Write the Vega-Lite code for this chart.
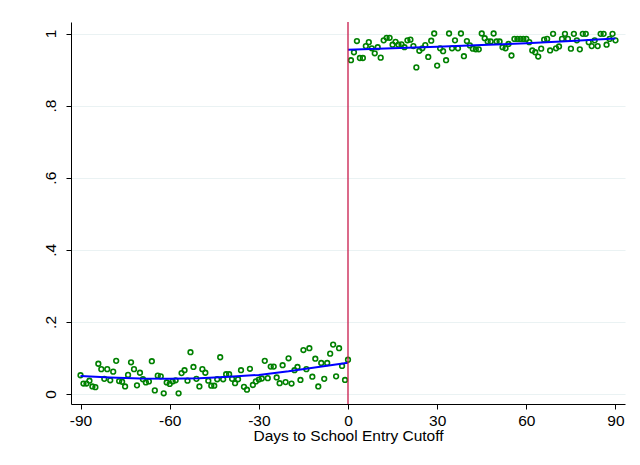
{
  "$schema": "https://vega.github.io/schema/vega-lite/v6.json",
  "autosize": "none",
  "width": 554,
  "height": 382,
  "padding": {"left": 71, "top": 22, "right": 15, "bottom": 61},
  "background": "white",
  "config": {
    "view": {"stroke": null},
    "font": "Liberation Sans",
    "axis": {
      "labelFont": "Liberation Sans",
      "titleFont": "Liberation Sans",
      "labelFontSize": 15.5,
      "titleFontSize": 15.5,
      "labelColor": "#000000",
      "titleColor": "#000000",
      "titleFontWeight": "normal",
      "domainColor": "#000000",
      "tickColor": "#000000",
      "domainWidth": 1,
      "tickWidth": 1,
      "tickSize": 5
    }
  },
  "datasets": {
    "pts": [
      {"x": -90, "y": 0.052, "side": "L"}, {"x": -89, "y": 0.029, "side": "L"}, {"x": -88, "y": 0.029, "side": "L"},
      {"x": -87, "y": 0.037, "side": "L"}, {"x": -86, "y": 0.021, "side": "L"}, {"x": -85, "y": 0.019, "side": "L"},
      {"x": -84, "y": 0.084, "side": "L"}, {"x": -83, "y": 0.069, "side": "L"}, {"x": -82, "y": 0.042, "side": "L"},
      {"x": -81, "y": 0.069, "side": "L"}, {"x": -80, "y": 0.038, "side": "L"}, {"x": -79, "y": 0.062, "side": "L"},
      {"x": -78, "y": 0.092, "side": "L"}, {"x": -77, "y": 0.036, "side": "L"}, {"x": -76, "y": 0.034, "side": "L"},
      {"x": -75, "y": 0.021, "side": "L"}, {"x": -74, "y": 0.053, "side": "L"}, {"x": -73, "y": 0.088, "side": "L"},
      {"x": -72, "y": 0.069, "side": "L"}, {"x": -71, "y": 0.024, "side": "L"}, {"x": -70, "y": 0.059, "side": "L"},
      {"x": -69, "y": 0.041, "side": "L"}, {"x": -68, "y": 0.032, "side": "L"}, {"x": -67, "y": 0.035, "side": "L"},
      {"x": -66, "y": 0.091, "side": "L"}, {"x": -65, "y": 0.010, "side": "L"}, {"x": -64, "y": 0.051, "side": "L"},
      {"x": -63, "y": 0.049, "side": "L"}, {"x": -62, "y": 0.002, "side": "L"}, {"x": -61, "y": 0.032, "side": "L"},
      {"x": -60, "y": 0.028, "side": "L"}, {"x": -59, "y": 0.035, "side": "L"}, {"x": -58, "y": 0.038, "side": "L"},
      {"x": -57, "y": 0.002, "side": "L"}, {"x": -56, "y": 0.058, "side": "L"}, {"x": -55, "y": 0.066, "side": "L"},
      {"x": -54, "y": 0.037, "side": "L"}, {"x": -53, "y": 0.116, "side": "L"}, {"x": -52, "y": 0.075, "side": "L"},
      {"x": -51, "y": 0.042, "side": "L"}, {"x": -50, "y": 0.021, "side": "L"}, {"x": -49, "y": 0.069, "side": "L"},
      {"x": -48, "y": 0.059, "side": "L"}, {"x": -47, "y": 0.037, "side": "L"}, {"x": -46, "y": 0.023, "side": "L"},
      {"x": -45, "y": 0.023, "side": "L"}, {"x": -44, "y": 0.041, "side": "L"}, {"x": -43, "y": 0.102, "side": "L"},
      {"x": -42, "y": 0.041, "side": "L"}, {"x": -41, "y": 0.055, "side": "L"}, {"x": -40, "y": 0.055, "side": "L"},
      {"x": -39, "y": 0.042, "side": "L"}, {"x": -38, "y": 0.030, "side": "L"}, {"x": -37, "y": 0.041, "side": "L"},
      {"x": -36, "y": 0.066, "side": "L"}, {"x": -35, "y": 0.020, "side": "L"}, {"x": -34, "y": 0.012, "side": "L"},
      {"x": -33, "y": 0.070, "side": "L"}, {"x": -32, "y": 0.025, "side": "L"}, {"x": -31, "y": 0.035, "side": "L"},
      {"x": -30, "y": 0.040, "side": "L"}, {"x": -29, "y": 0.043, "side": "L"}, {"x": -28, "y": 0.092, "side": "L"},
      {"x": -27, "y": 0.044, "side": "L"}, {"x": -26, "y": 0.076, "side": "L"}, {"x": -25, "y": 0.076, "side": "L"},
      {"x": -24, "y": 0.046, "side": "L"}, {"x": -23, "y": 0.030, "side": "L"}, {"x": -22, "y": 0.080, "side": "L"},
      {"x": -21, "y": 0.033, "side": "L"}, {"x": -20, "y": 0.099, "side": "L"}, {"x": -19, "y": 0.029, "side": "L"},
      {"x": -18, "y": 0.066, "side": "L"}, {"x": -17, "y": 0.075, "side": "L"}, {"x": -16, "y": 0.039, "side": "L"},
      {"x": -15, "y": 0.122, "side": "L"}, {"x": -14, "y": 0.069, "side": "L"}, {"x": -13, "y": 0.127, "side": "L"},
      {"x": -12, "y": 0.048, "side": "L"}, {"x": -11, "y": 0.098, "side": "L"}, {"x": -10, "y": 0.021, "side": "L"},
      {"x": -9, "y": 0.086, "side": "L"}, {"x": -8, "y": 0.042, "side": "L"}, {"x": -7, "y": 0.086, "side": "L"},
      {"x": -6, "y": 0.112, "side": "L"}, {"x": -5, "y": 0.137, "side": "L"}, {"x": -4, "y": 0.049, "side": "L"},
      {"x": -3, "y": 0.127, "side": "L"}, {"x": -2, "y": 0.078, "side": "L"}, {"x": -1, "y": 0.039, "side": "L"},
      {"x": 0, "y": 0.095, "side": "L"},
      {"x": 1, "y": 0.926, "side": "R"}, {"x": 2, "y": 0.948, "side": "R"}, {"x": 3, "y": 0.979, "side": "R"},
      {"x": 4, "y": 0.932, "side": "R"}, {"x": 5, "y": 0.932, "side": "R"}, {"x": 6, "y": 0.965, "side": "R"},
      {"x": 7, "y": 0.976, "side": "R"}, {"x": 8, "y": 0.959, "side": "R"}, {"x": 9, "y": 0.945, "side": "R"},
      {"x": 10, "y": 0.962, "side": "R"}, {"x": 11, "y": 0.933, "side": "R"}, {"x": 12, "y": 0.981, "side": "R"},
      {"x": 13, "y": 0.988, "side": "R"}, {"x": 14, "y": 0.988, "side": "R"}, {"x": 15, "y": 0.969, "side": "R"},
      {"x": 16, "y": 0.977, "side": "R"}, {"x": 17, "y": 0.969, "side": "R"}, {"x": 18, "y": 0.970, "side": "R"},
      {"x": 19, "y": 0.962, "side": "R"}, {"x": 20, "y": 0.981, "side": "R"}, {"x": 21, "y": 0.983, "side": "R"},
      {"x": 22, "y": 0.965, "side": "R"}, {"x": 23, "y": 0.906, "side": "R"}, {"x": 24, "y": 0.952, "side": "R"},
      {"x": 25, "y": 0.959, "side": "R"}, {"x": 26, "y": 0.968, "side": "R"}, {"x": 27, "y": 0.935, "side": "R"},
      {"x": 28, "y": 0.980, "side": "R"}, {"x": 29, "y": 1.000, "side": "R"}, {"x": 30, "y": 0.911, "side": "R"},
      {"x": 31, "y": 0.959, "side": "R"}, {"x": 32, "y": 0.951, "side": "R"}, {"x": 33, "y": 0.926, "side": "R"},
      {"x": 34, "y": 1.000, "side": "R"}, {"x": 35, "y": 0.959, "side": "R"}, {"x": 36, "y": 0.981, "side": "R"},
      {"x": 37, "y": 0.959, "side": "R"}, {"x": 38, "y": 1.000, "side": "R"}, {"x": 39, "y": 0.937, "side": "R"},
      {"x": 40, "y": 0.979, "side": "R"}, {"x": 41, "y": 0.967, "side": "R"}, {"x": 42, "y": 0.958, "side": "R"},
      {"x": 43, "y": 0.956, "side": "R"}, {"x": 44, "y": 0.956, "side": "R"}, {"x": 45, "y": 1.000, "side": "R"},
      {"x": 46, "y": 0.987, "side": "R"}, {"x": 47, "y": 0.978, "side": "R"}, {"x": 48, "y": 0.978, "side": "R"},
      {"x": 49, "y": 1.000, "side": "R"}, {"x": 50, "y": 0.978, "side": "R"}, {"x": 51, "y": 0.978, "side": "R"},
      {"x": 52, "y": 0.962, "side": "R"}, {"x": 53, "y": 0.959, "side": "R"}, {"x": 54, "y": 0.971, "side": "R"},
      {"x": 55, "y": 0.939, "side": "R"}, {"x": 56, "y": 0.985, "side": "R"}, {"x": 57, "y": 0.985, "side": "R"},
      {"x": 58, "y": 0.985, "side": "R"}, {"x": 59, "y": 0.985, "side": "R"}, {"x": 60, "y": 0.985, "side": "R"},
      {"x": 61, "y": 0.976, "side": "R"}, {"x": 62, "y": 0.953, "side": "R"}, {"x": 63, "y": 0.948, "side": "R"},
      {"x": 64, "y": 0.936, "side": "R"}, {"x": 65, "y": 0.958, "side": "R"}, {"x": 66, "y": 0.983, "side": "R"},
      {"x": 67, "y": 0.985, "side": "R"}, {"x": 68, "y": 0.953, "side": "R"}, {"x": 69, "y": 0.999, "side": "R"},
      {"x": 70, "y": 0.959, "side": "R"}, {"x": 71, "y": 0.964, "side": "R"}, {"x": 72, "y": 0.985, "side": "R"},
      {"x": 73, "y": 0.999, "side": "R"}, {"x": 74, "y": 0.985, "side": "R"}, {"x": 75, "y": 0.958, "side": "R"},
      {"x": 76, "y": 0.999, "side": "R"}, {"x": 77, "y": 0.981, "side": "R"}, {"x": 78, "y": 0.956, "side": "R"},
      {"x": 79, "y": 0.999, "side": "R"}, {"x": 80, "y": 0.999, "side": "R"}, {"x": 81, "y": 0.976, "side": "R"},
      {"x": 82, "y": 0.965, "side": "R"}, {"x": 83, "y": 0.981, "side": "R"}, {"x": 84, "y": 0.965, "side": "R"},
      {"x": 85, "y": 0.999, "side": "R"}, {"x": 86, "y": 0.999, "side": "R"}, {"x": 87, "y": 0.969, "side": "R"},
      {"x": 88, "y": 0.985, "side": "R"}, {"x": 89, "y": 0.999, "side": "R"}, {"x": 90, "y": 0.981, "side": "R"}
    ],
    "fit": [
      {"x": -90, "y": 0.050, "side": "L"}, {"x": -80, "y": 0.046, "side": "L"}, {"x": -70, "y": 0.043, "side": "L"},
      {"x": -60, "y": 0.042, "side": "L"}, {"x": -50, "y": 0.044, "side": "L"}, {"x": -40, "y": 0.048, "side": "L"},
      {"x": -30, "y": 0.053, "side": "L"}, {"x": -20, "y": 0.063, "side": "L"}, {"x": -10, "y": 0.075, "side": "L"},
      {"x": 0, "y": 0.087, "side": "L"},
      {"x": 0, "y": 0.955, "side": "R"}, {"x": 15, "y": 0.959, "side": "R"}, {"x": 30, "y": 0.963, "side": "R"},
      {"x": 45, "y": 0.968, "side": "R"}, {"x": 60, "y": 0.973, "side": "R"}, {"x": 75, "y": 0.979, "side": "R"},
      {"x": 90, "y": 0.986, "side": "R"}
    ],
    "cut": [{"x": 0}]
  },
  "layer": [
    {
      "data": {"name": "pts"},
      "mark": {"type": "point", "shape": "circle", "filled": false, "color": "#008000", "strokeWidth": 1.6, "size": 22, "opacity": 1},
      "encoding": {
        "x": {
          "field": "x", "type": "quantitative",
          "scale": {"domain": [-93.2, 93.2], "nice": false, "zero": false},
          "axis": {
            "values": [-90, -60, -30, 0, 30, 60, 90],
            "labelExpr": "'' + datum.value",
            "title": "Days to School Entry Cutoff",
            "titlePadding": 0,
            "labelPadding": 4,
            "grid": false
          }
        },
        "y": {
          "field": "y", "type": "quantitative",
          "scale": {"domain": [-0.0277, 1.0319], "nice": false, "zero": false},
          "axis": {
            "values": [0, 0.2, 0.4, 0.6, 0.8, 1],
            "title": null,
            "labelAngle": -90,
            "labelAlign": "center",
            "labelBaseline": "bottom",
            "labelPadding": 8,
            "labelExpr": "datum.value == 0 ? '0' : datum.value == 1 ? '1' : '.' + format(datum.value * 10, '.0f')",
            "grid": true,
            "gridColor": "#EAF2F3",
            "gridWidth": 1.2
          }
        }
      }
    },
    {
      "data": {"name": "fit"},
      "mark": {"type": "line", "color": "#0000FF", "strokeWidth": 2},
      "encoding": {
        "x": {"field": "x", "type": "quantitative"},
        "y": {"field": "y", "type": "quantitative"},
        "detail": {"field": "side"}
      }
    },
    {
      "data": {"name": "cut"},
      "mark": {"type": "rule", "color": "#C8194B", "strokeWidth": 1.3},
      "encoding": {
        "x": {"field": "x", "type": "quantitative"}
      }
    }
  ]
}
